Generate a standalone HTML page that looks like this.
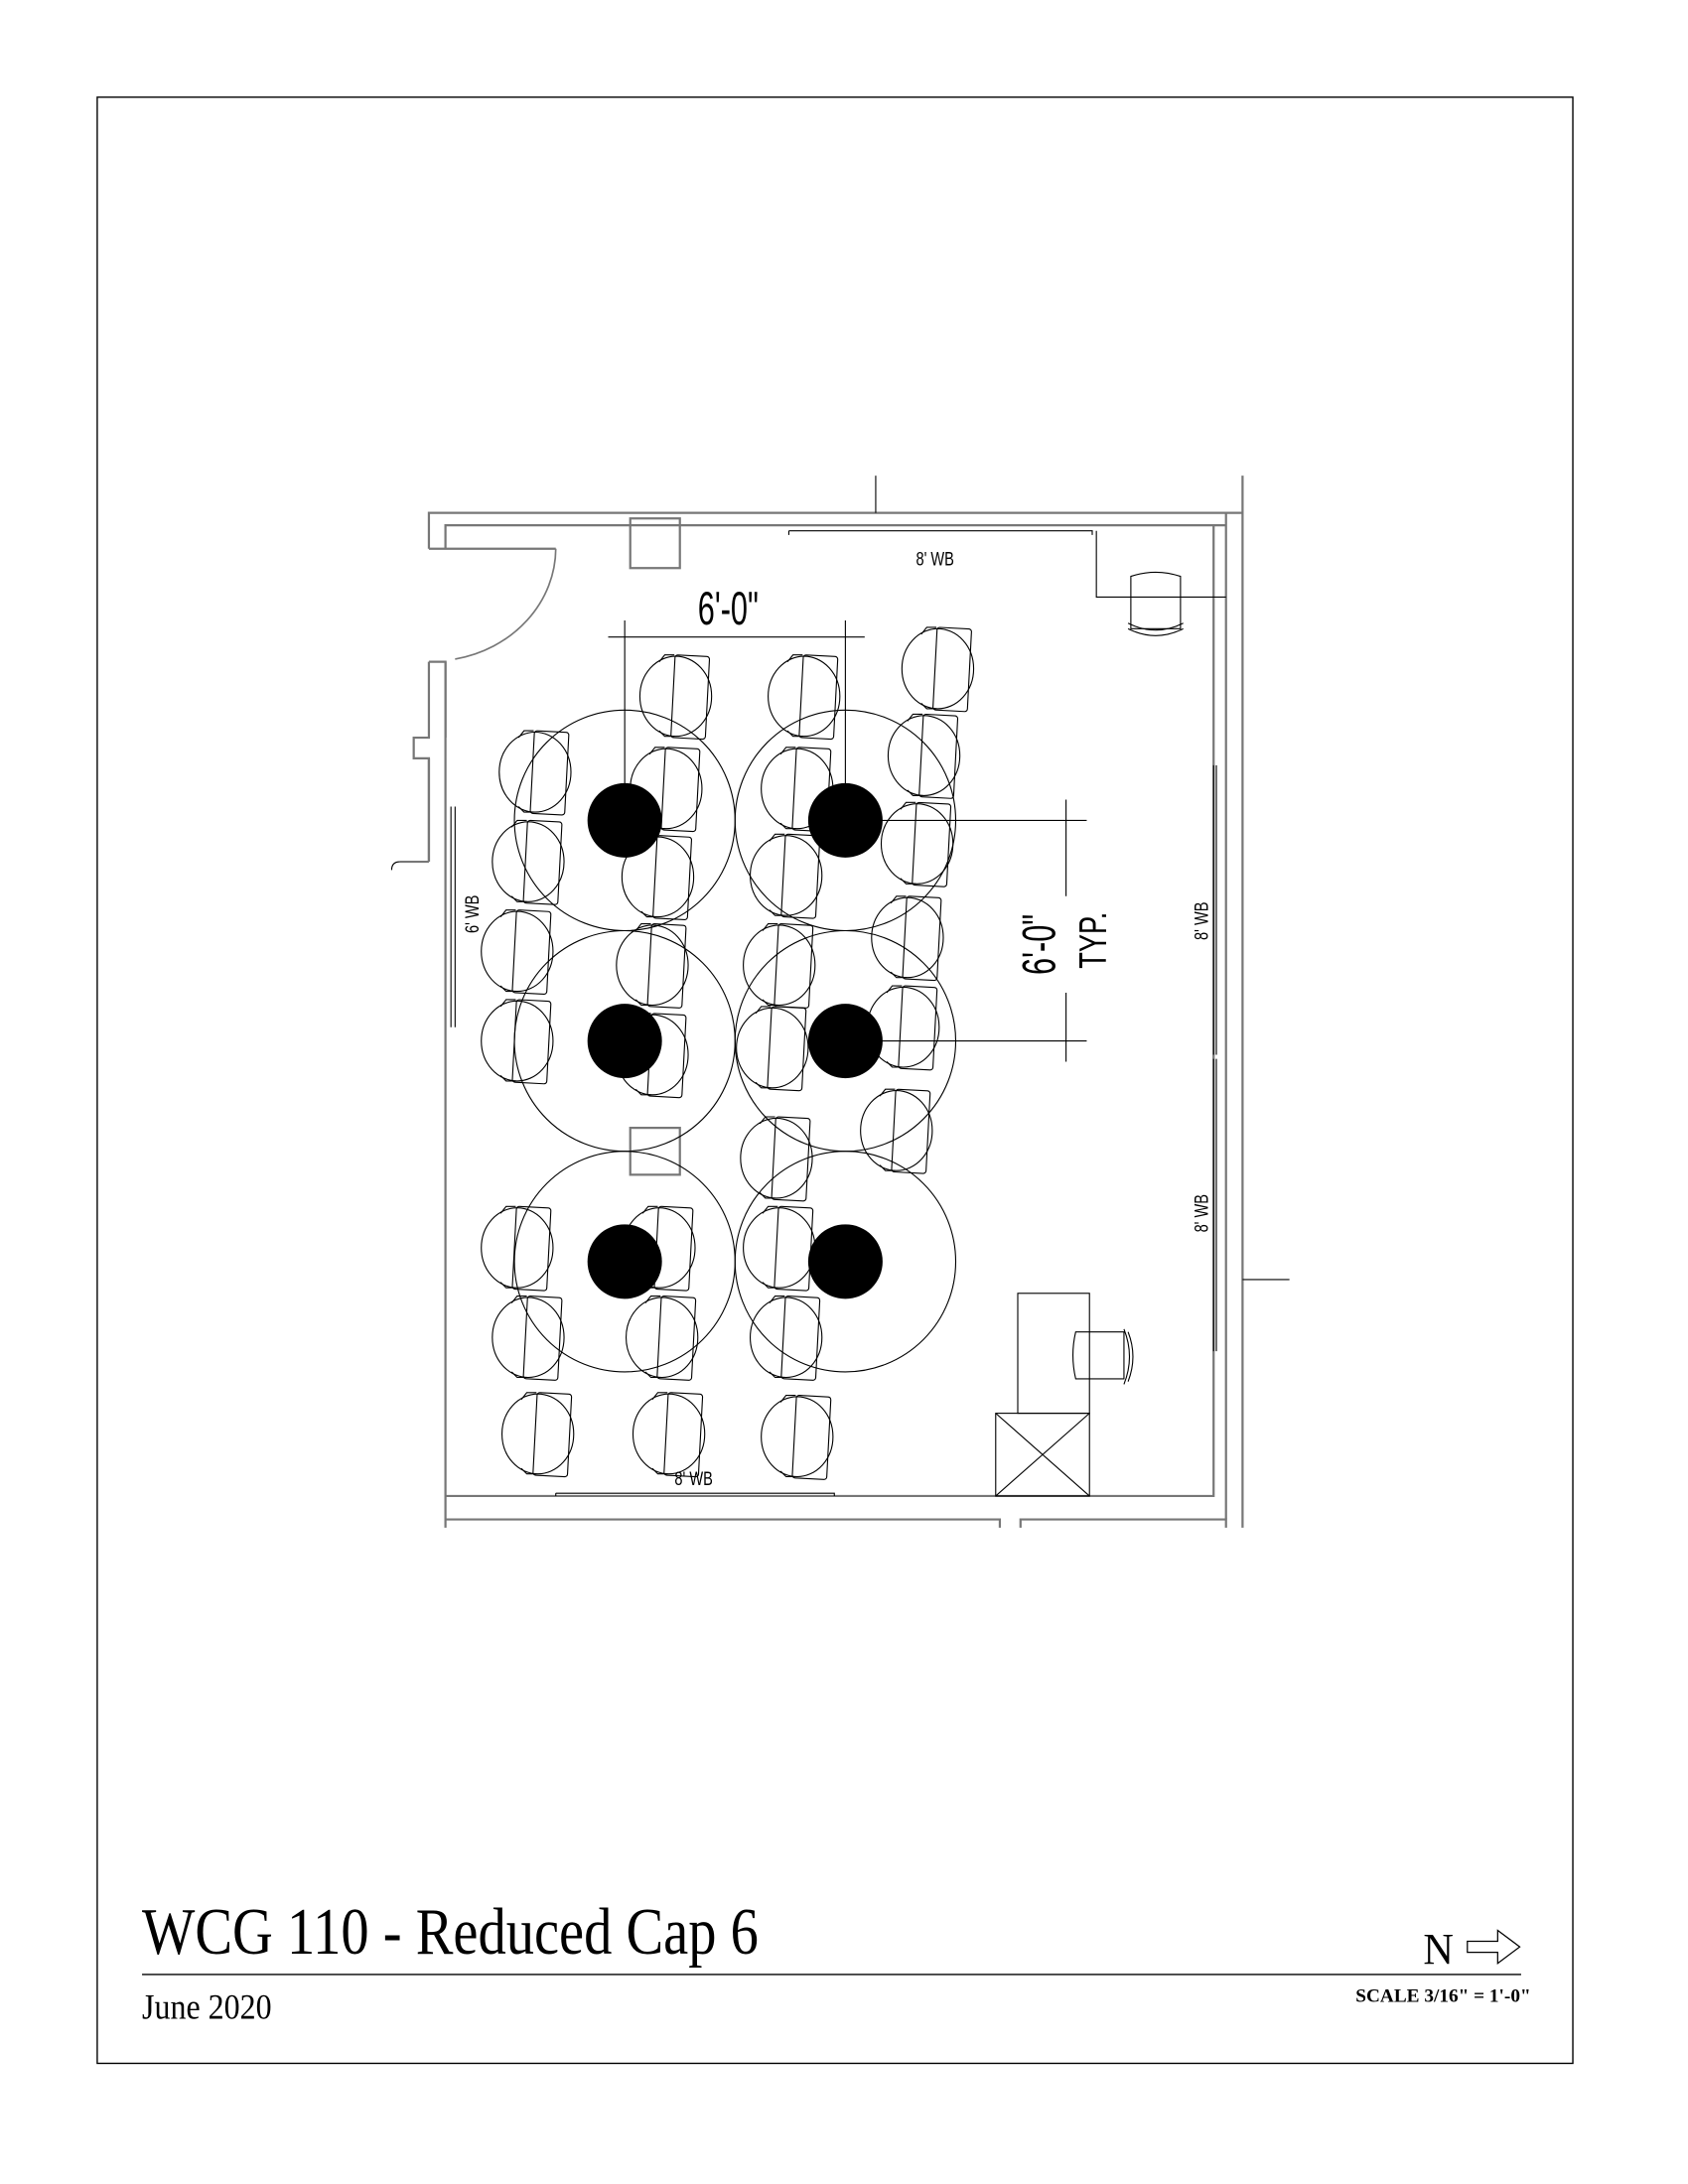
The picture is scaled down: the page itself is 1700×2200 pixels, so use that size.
<!DOCTYPE html>
<html><head><meta charset="utf-8"><style>
html,body{margin:0;padding:0;background:#fff}
svg{display:block}
</style></head><body>
<svg width="1700" height="2200" viewBox="0 0 1224 1584" xmlns="http://www.w3.org/2000/svg">
<defs>
<g id="ch" fill="none" stroke="#000" stroke-width="0.8">
<ellipse cx="0" cy="0" rx="26" ry="29"/>
<rect x="-2" y="-30" width="25" height="60" rx="2" transform="rotate(3)"/>
<path d="M-12 -25 l4 -5 h7 M-12 25 l4 4 h7"/>
</g>
</defs>
<rect x="70.5" y="70.5" width="1070" height="1426" fill="none" stroke="#000" stroke-width="1"/>
<g fill="none" stroke="#777" stroke-width="1.6">
<path d="M311 398 V372 H889 V1102 M901 345 V1108 M889 372 H901"/>
<path d="M323 398 V381 H889"/>
<path d="M311 398 H403 M311 480 H323 V1108 M311 480 V535 H300 V550 H311 V625 M311 625 H290"/>
<path d="M323 480 V535 M311 550 V625"/>
<path d="M323 1085 H880 V381"/>
<path d="M323 1102 H725 V1108 M740 1108 V1102 H889 V1108"/>
<rect x="457" y="376" width="36" height="36"/>
<rect x="457" y="818" width="36" height="34"/>
</g>
<g fill="none" stroke="#000" stroke-width="0.8">
<path d="M635 345 V372"/>
<path d="M901 928 H935"/>
<path d="M403 398 A90 82 0 0 1 330 478" stroke="#777" stroke-width="1.2"/>
<path d="M290 625 q-6 0 -6 6" />
<path d="M572 385 H792 V388 M572 385 V388"/>
<path d="M795 385 V433 H889"/>
<path d="M880 555 V765 M882 555 V765 M880 768 V980 M882 768 V980"/>
<path d="M327 585 V745 M330 585 V745"/>
<path d="M403 1083 H605 V1085 M403 1083 V1085"/>
<rect x="738" y="938" width="52" height="87"/>
<rect x="722" y="1025" width="68" height="60"/>
<path d="M722 1025 L790 1085 M790 1025 L722 1085"/>
<path d="M441 462 H627 M453 450 V595 M613 450 V595"/>
<path d="M613 595 H788 M613 755 H788 M773 580 V650 M773 720 V770"/>
<circle cx="453" cy="595" r="80"/><circle cx="613" cy="595" r="80"/>
<circle cx="453" cy="755" r="80"/><circle cx="613" cy="755" r="80"/>
<circle cx="453" cy="915" r="80"/><circle cx="613" cy="915" r="80"/>
</g>
<g fill="#000">
<circle cx="453" cy="595" r="27"/><circle cx="613" cy="595" r="27"/>
<circle cx="453" cy="755" r="27"/><circle cx="613" cy="755" r="27"/>
<circle cx="453" cy="915" r="27"/><circle cx="613" cy="915" r="27"/>
</g>
<use href="#ch" x="388" y="560"/><use href="#ch" x="383" y="625"/><use href="#ch" x="375" y="690"/><use href="#ch" x="375" y="755"/><use href="#ch" x="375" y="905"/><use href="#ch" x="383" y="970"/><use href="#ch" x="390" y="1040"/>
<use href="#ch" x="490" y="505"/><use href="#ch" x="483" y="572"/><use href="#ch" x="477" y="636"/><use href="#ch" x="473" y="700"/><use href="#ch" x="473" y="765"/><use href="#ch" x="478" y="905"/><use href="#ch" x="480" y="970"/><use href="#ch" x="485" y="1040"/>
<use href="#ch" x="583" y="505"/><use href="#ch" x="578" y="572"/><use href="#ch" x="570" y="635"/><use href="#ch" x="565" y="700"/><use href="#ch" x="560" y="760"/><use href="#ch" x="563" y="840"/><use href="#ch" x="565" y="905"/><use href="#ch" x="570" y="970"/><use href="#ch" x="578" y="1042"/>
<use href="#ch" x="680" y="485"/><use href="#ch" x="670" y="548"/><use href="#ch" x="665" y="612"/><use href="#ch" x="658" y="680"/><use href="#ch" x="655" y="745"/><use href="#ch" x="650" y="820"/>
<g fill="none" stroke="#000" stroke-width="0.8">
<path d="M820 418 q18 -6 36 0 v38 h-36 z"/><path d="M818 452 q20 10 40 0 M818 456 q20 10 40 0"/>
<path d="M780 966 q-4 17 0 34 h35 v-34 z"/><path d="M815 964 q8 20 0 40 M818 966 q7 18 0 36"/>
</g>
<g font-family="'Liberation Sans',sans-serif" fill="#000">
<text transform="translate(678,410) scale(0.75,1)" font-size="14" text-anchor="middle">8' WB</text>
<text transform="translate(528,453) scale(0.65,1)" font-size="34" text-anchor="middle">6'-0"</text>
<text transform="translate(765,685) rotate(-90) scale(0.65,1)" font-size="34" text-anchor="middle">6'-0"</text>
<text transform="translate(802,682) rotate(-90) scale(0.7,1)" font-size="28" text-anchor="middle">TYP.</text>
<text transform="translate(876,668) rotate(-90) scale(0.75,1)" font-size="14" text-anchor="middle">8' WB</text>
<text transform="translate(876,880) rotate(-90) scale(0.75,1)" font-size="14" text-anchor="middle">8' WB</text>
<text transform="translate(347,663) rotate(-90) scale(0.75,1)" font-size="14" text-anchor="middle">6' WB</text>
<text transform="translate(503,1077) scale(0.75,1)" font-size="14" text-anchor="middle">8' WB</text>
</g>
<g font-family="'Liberation Serif',serif" fill="#000">
<text x="103" y="1417" font-size="48" textLength="447" lengthAdjust="spacingAndGlyphs">WCG 110 - Reduced Cap 6</text>
<text x="103" y="1464" font-size="26" textLength="94" lengthAdjust="spacingAndGlyphs">June 2020</text>
<text x="1032" y="1424" font-size="32" textLength="22" lengthAdjust="spacingAndGlyphs">N</text>
<text x="983" y="1452" font-size="14" font-weight="bold" textLength="127" lengthAdjust="spacingAndGlyphs">SCALE 3/16" = 1'-0"</text>
</g>
<path d="M103 1432 H1103" stroke="#000" stroke-width="1"/>
<path d="M1064 1408 H1086 V1400 L1102 1412 L1086 1424 V1416 H1064 Z" fill="none" stroke="#000" stroke-width="0.9"/>
</svg>
</body></html>
